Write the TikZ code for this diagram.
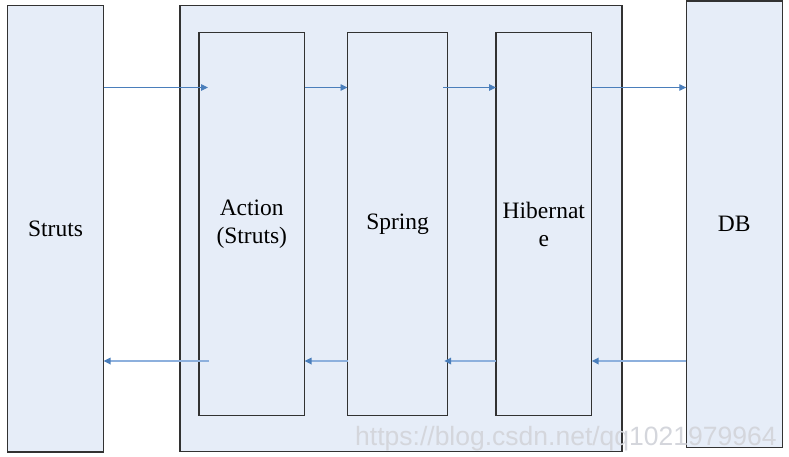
\documentclass[tikz,border=0pt]{standalone}
\usepackage{fontspec}
\setmainfont{Liberation Serif}
\newfontfamily\wmfont{Liberation Sans}
\usetikzlibrary{arrows.meta}
\definecolor{boxfill}{RGB}{230,237,248}
\definecolor{boxline}{RGB}{50,50,50}
\definecolor{arrowdark}{RGB}{74,126,187}
\definecolor{arrowlight}{RGB}{141,176,221}
\definecolor{wmcolor}{RGB}{212,214,220}
\tikzset{
  box/.style={draw=boxline, fill=boxfill, line width=1.2pt, inner sep=0pt, outer sep=0pt,
    anchor=north west, align=center, font=\fontsize{23.5}{28}\selectfont},
  fwd/.style={draw=arrowdark, line width=0.9pt, -{Triangle[length=7pt,width=6.5pt]}},
  back/.style={draw=arrowlight, line width=1.6pt, -{Triangle[length=7pt,width=6.5pt,color=arrowdark,fill=arrowdark]}},
  wm/.style={text=wmcolor, font=\wmfont\fontsize{26.5}{30}\selectfont, inner sep=0pt, anchor=base west}
}
\begin{document}
\begin{tikzpicture}[x=1pt,y=-1pt]
\useasboundingbox (0,0) rectangle (789,456);
\coordinate (top) at (0,87.5);
\coordinate (bot) at (0,361);
\node (struts) [box, minimum width=96pt, minimum height=446.5pt] at (7.5,5.5) {Struts};
\node (outer) [box, minimum width=442pt, minimum height=446pt] at (180,5.5) {};
\node (action) [box, minimum width=105.5pt, minimum height=383pt] at (199,32.5) {Action\\(Struts)};
\node (spring) [box, minimum width=100.2pt, minimum height=383pt] at (347.5,32.5) {Spring};
\node (hib) [box, minimum width=95.7pt, minimum height=383pt] at (496,32.5) {Hibernat\\e};
\node (db) [box, minimum width=96pt, minimum height=446.3pt] at (686.3,1) {DB};
% forward arrows
\draw[fwd] (struts.east |- top) -- ([xshift=9pt]action.west |- top);
\draw[fwd] (action.east |- top) -- (spring.west |- top);
\draw[fwd] ([xshift=-4.7pt]spring.east |- top) -- (hib.west |- top);
\draw[fwd] (hib.east |- top) -- (db.west |- top);
% backward arrows
\draw[back] ([xshift=10pt]action.west |- bot) -- (struts.east |- bot);
\draw[back] (spring.west |- bot) -- (action.east |- bot);
\draw[back] (hib.west |- bot) -- ([xshift=-3.5pt]spring.east |- bot);
\draw[back] (db.west |- bot) -- (hib.east |- bot);
% watermark
\node (wm) [wm] at (355,445) {https://blog.csdn.net/qq1021979964};
\end{tikzpicture}
\end{document}
